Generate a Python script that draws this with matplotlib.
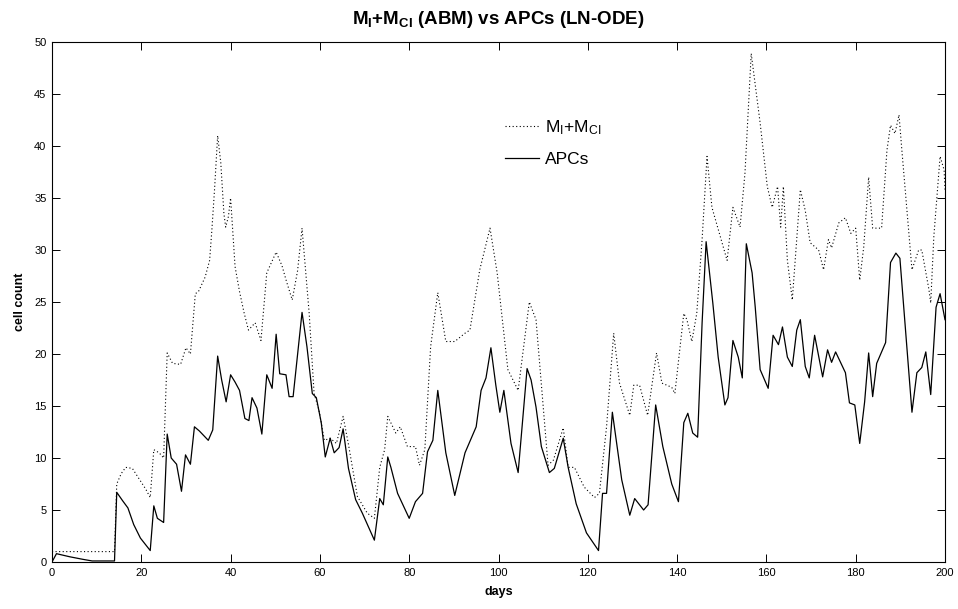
import matplotlib
matplotlib.use("Agg")
import matplotlib.pyplot as plt

plt.rcParams['font.family'] = ['Liberation Sans', 'DejaVu Sans']
plt.rcParams['mathtext.fontset'] = 'custom'
plt.rcParams['mathtext.rm'] = 'Liberation Sans'
plt.rcParams['mathtext.bf'] = 'Liberation Sans:bold'
plt.rcParams['mathtext.default'] = 'regular'

# ---- data ----
m_days = [0, 14, 14.5, 15.5, 16.5, 18, 19.5, 21, 22, 22.8, 24, 25, 25.8, 27, 28.8, 30, 31,
          32.1, 32.8, 34.3, 35.3, 35.8, 36.4, 37.1, 37.8, 38.5, 38.9, 39.5, 40, 41, 42, 43,
          44, 45.5, 46.8, 48.1, 50.2, 51.5, 52.5, 53.8, 55, 56, 57.6, 58.7, 59.8, 61, 62.3,
          63.7, 65.2, 66.4, 68.4, 70.6, 72.2, 73.4, 74.5, 75.2, 77, 78, 79.6, 81.4, 82.3,
          83.5, 84.8, 86.4, 88.2, 90.2, 92.5, 93.6, 95.8, 98.1, 99.7, 102.1, 104.4, 106.9,
          108.4, 111.1, 112.3, 114.5, 115.6, 117, 119.2, 121.5, 122.6, 124.2, 125.8, 127.1,
          129.4, 130.3, 131.6, 133.4, 135.4, 136.6, 138.8, 139.5, 141.5, 142.2, 143.3, 144.4,
          145.6, 146.7, 147.8, 151.2, 152.5, 154.1, 155.2, 156.6, 158.6, 160.2, 161.3, 162.5,
          163.2, 163.8, 164.7, 165.8, 167.6, 168.7, 169.8, 171.7, 172.8, 173.9, 174.6, 176.2,
          177.7, 178.9, 180, 180.9, 181.8, 182.9, 183.8, 185.8, 187, 187.8, 188.8, 189.7,
          190.3, 192.6, 194.1, 194.8, 196.4, 196.8, 197.5, 198.9, 199.8, 200]
m_vals = [1, 1, 7.5, 8.5, 9.1, 9, 8, 7, 6.2, 10.8, 10.5, 10, 20.1, 19.1, 19, 20.6, 20,
          25.8, 26, 27.4, 29, 31.9, 35.8, 41, 38.4, 33.5, 32.2, 33.2, 35, 28.4, 26, 24,
          22.3, 23, 21.3, 27.8, 29.8, 28.5, 27, 25.2, 28, 32.1, 23.9, 16.2, 14.6, 11.7, 11.9,
          11.4, 14, 11.3, 6.3, 4.7, 4.2, 9.1, 10.8, 14, 12.4, 13, 11.1, 11.1, 9.3,
          10.8, 20.7, 25.9, 21.2, 21.2, 22, 22.3, 28.1, 32.1, 27.8, 18.5, 16.5, 25,
          23.3, 9.3, 9.8, 12.9, 9.1, 9.1, 7.2, 6.2, 6.6, 13, 22, 17.2,
          14.1, 17, 17, 14.1, 20.1, 17.2, 16.8, 16.2, 23.9, 23.3, 21.2, 23.9,
          31, 39, 34.1, 29, 34.1, 32.2, 37.4, 48.9, 42.2, 36.1, 34.1, 36.1,
          32.2, 36.1, 29, 25.2, 35.8, 33.8, 30.7, 30, 28.1, 31, 30.2, 32.6,
          33.1, 31.6, 32.1, 27.1, 30.3, 37, 32.1, 32.1, 39.6, 42, 41.2, 43,
          39.8, 28.1, 30, 30, 26.2, 24.9, 31.3, 39, 37.7, 35.8]

apc_days = [0, 1, 4, 7, 9, 14, 14.5, 15.8, 17, 18.3, 19.8, 22, 22.8, 23.6, 25, 25.8, 26.7,
            27.9, 29, 29.9, 31, 31.9, 33, 35, 36, 37.1, 38, 39, 40, 41, 42, 43.2, 44.1, 44.8,
            45.9, 47, 48.1, 49.3, 50.2, 51, 52.4, 53.1, 54, 56, 57.1, 58.3, 59.2, 60.3, 61.2,
            62.3, 63.2, 64.3, 65.2, 66.4, 68, 69.5, 72.2, 73.4, 74.2, 75.2, 75.9, 77.4, 80,
            81.4, 83, 84.1, 85.3, 86.4, 88.2, 90.2, 92.5, 95, 96.1, 97.2, 98.3, 99.4, 100.3,
            101.2, 102.8, 104.4, 106.4, 107.3, 108.4, 109.6, 111.4, 112.5, 114.5, 115.6, 117.4,
            119.7, 122.4, 123.3, 124.2, 125.5, 127.6, 129.4, 130.5, 132.5, 133.5, 135.2, 136.8,
            138.8, 140.3, 141.5, 142.4, 143.5, 144.6, 145.6, 146.5, 148, 149.2, 150.7, 151.4,
            152.5, 153.7, 154.6, 155.5, 156.8, 157.5, 158.6, 160.4, 161.5, 162.7, 163.6, 164.7,
            165.8, 166.8, 167.6, 168.7, 169.6, 170.8, 172.6, 173.7, 174.6, 175.5, 177.7, 178.6,
            179.8, 180.9, 182, 182.9, 183.8, 184.7, 186.7, 187.8, 189, 189.9, 192.6, 193.7,
            194.8, 195.7, 196.8, 198, 198.9, 200]
apc_vals = [0, 0.8, 0.5, 0.25, 0.1, 0.1, 6.7, 5.9, 5.2, 3.6, 2.3, 1.1, 5.4, 4.2, 3.8, 12.3, 10,
            9.4, 6.8, 10.3, 9.4, 13, 12.6, 11.7, 12.7, 19.8, 17.5, 15.4, 18, 17.3, 16.5, 13.8, 13.6, 15.8,
            14.8, 12.3, 18, 16.7, 21.9, 18.1, 18, 15.9, 15.9, 24, 20.7, 16.2, 15.8, 13.4, 10.1,
            11.9, 10.5, 11, 12.8, 9, 6, 4.7, 2.1, 6.1, 5.5, 10.1, 9.1, 6.6, 4.2,
            5.8, 6.6, 10.6, 11.7, 16.5, 10.5, 6.4, 10.5, 13, 16.5, 17.7, 20.6, 17, 14.4,
            16.5, 11.4, 8.6, 18.6, 17.5, 14.9, 11.1, 8.6, 9, 11.9, 9.1, 5.6,
            2.8, 1.1, 6.6, 6.6, 14.4, 7.9, 4.5, 6.1, 5, 5.5, 15.1, 11.1,
            7.5, 5.8, 13.4, 14.3, 12.4, 12, 23, 30.8, 24.9, 19.7, 15.1, 15.8,
            21.3, 19.7, 17.7, 30.6, 27.8, 24.5, 18.5, 16.7, 21.8, 20.9, 22.6, 19.7,
            18.8, 22.3, 23.3, 18.8, 17.7, 21.8, 17.8, 20.4, 19.2, 20.2, 18.2, 15.3,
            15.1, 11.4, 15.4, 20.1, 15.9, 19.1, 21.1, 28.8, 29.7, 29.2, 14.4, 18.2,
            18.7, 20.2, 16.1, 24.5, 25.8, 23.3]

x_ticks = list(range(0, 201, 20))
y_ticks = list(range(0, 51, 5))

# ---- figure ----
fig = plt.figure(figsize=(9.58, 6.09), dpi=100)
ax = fig.add_axes([52/958, 1 - 562/609, (945 - 52)/958, (562 - 42)/609])

ax.plot(m_days, m_vals, color='black', linestyle=(0, (1, 2.2)), linewidth=0.8,
        label=r'M$_{I}$+M$_{CI}$')
ax.plot(apc_days, apc_vals, color='black', linestyle='-', linewidth=0.9, label='APCs')

ax.set_xlim(0, 200)
ax.set_ylim(0, 50)
ax.set_xticks(x_ticks)
ax.set_yticks(y_ticks)
ax.tick_params(direction='in', length=6, width=0.7, top=True, right=True,
               labelsize=8, pad=4)
for s in ax.spines.values():
    s.set_linewidth(0.8)

ax.set_xlabel('days', fontsize=9, fontweight='bold', labelpad=6)
ax.set_ylabel('cell count', fontsize=9, fontweight='bold', labelpad=6)
ax.set_title(r'M$_\mathbf{I}$+M$_\mathbf{CI}$ (ABM) vs APCs (LN-ODE)',
             fontsize=13.5, fontweight='bold', pad=13)

leg = ax.legend(loc='upper left', bbox_to_anchor=(0.4894, 0.884), frameon=False,
                fontsize=12.5, handlelength=2.0, handletextpad=0.3, labelspacing=0.9)

fig.savefig('out.png', dpi=100)
